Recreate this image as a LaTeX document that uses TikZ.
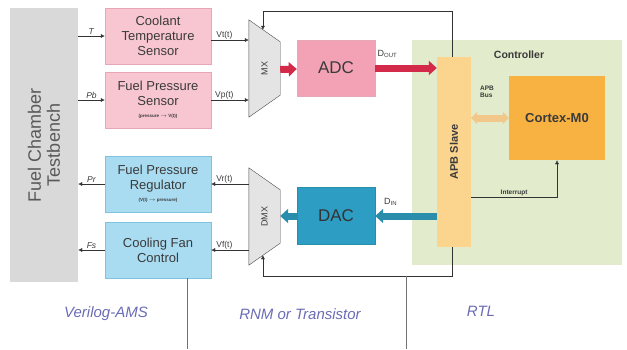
\documentclass[tikz,border=0pt]{standalone}
\usepackage{fontspec}
\setmainfont{Liberation Sans}
\usepackage{tikz}
\usetikzlibrary{calc,arrows.meta,positioning}
\definecolor{benchg}{HTML}{D9D9D9}
\definecolor{pinkbox}{HTML}{F8C6D1}
\definecolor{pinkline}{HTML}{E7A7B7}
\definecolor{adcx}{HTML}{F3A2B5}
\definecolor{redx}{HTML}{D42A4A}
\definecolor{bluebox}{HTML}{A9DCF1}
\definecolor{blueline}{HTML}{7FC3E0}
\definecolor{dacx}{HTML}{2E9DC3}
\definecolor{tealx}{HTML}{2A8DAC}
\definecolor{greenx}{HTML}{E2EBCB}
\definecolor{apbx}{HTML}{FBD48E}
\definecolor{cortexx}{HTML}{F8B241}
\definecolor{busx}{HTML}{F2C88A}
\definecolor{txt}{HTML}{3A3A3A}
\definecolor{layerx}{HTML}{6A6CB4}
\definecolor{muxg}{HTML}{E4E4E4}
\tikzset{
  blk/.style={minimum width=106pt,minimum height=56pt,align=center,text=txt,
    font=\fontsize{13}{15}\selectfont,inner sep=2pt},
  sens/.style={blk,fill=pinkbox,draw=pinkline},
  act/.style={blk,fill=bluebox,draw=blueline},
  sig/.style={-{Latex[length=4pt,width=4pt]},thin,black!80},
  lbl/.style={font=\fontsize{8.5}{9}\selectfont,text=txt,inner sep=1pt},
  fat/.style={line width=7pt,-{Triangle[length=8pt,width=14pt]}},
  layer/.style={font=\itshape\fontsize{15}{16}\selectfont,text=layerx}
}
\newcommand{\smallnote}[1]{\\[-3pt]{\fontsize{4.5}{5}\selectfont\bfseries #1}}
\begin{document}
\begin{tikzpicture}[x=1pt,y=-1pt]
\useasboundingbox (0,0) rectangle (627,349);
% controller area
\node[fill=greenx,minimum width=210pt,minimum height=225pt] (ctrl) at (517,152.5) {};
\node[font=\bfseries\fontsize{10.5}{12}\selectfont,text=txt] (ctrllbl) at (519,55) {Controller};
% testbench
\node[fill=benchg,minimum width=274pt,minimum height=68pt,text=black!65,align=center,
  rotate=90,font=\fontsize{18}{19}\selectfont] (bench) at (44,145) {Fuel Chamber\\Testbench};
% sensors and actuators
\node[sens] (cts) at (158,36) {Coolant\\Temperature\\Sensor};
\node[sens] (fps) at (158,100) {Fuel Pressure\\Sensor\smallnote{(pressure $\rightarrow$ V(t))}};
\node[act] (fpr) at (158,184) {Fuel Pressure\\Regulator\smallnote{(V(t) $\rightarrow$ pressure)}};
\node[act] (cfc) at (158,250) {Cooling Fan\\Control};
% mux / demux
\node[minimum width=31pt,minimum height=97pt,inner sep=0pt] (mux) at (264.5,68.5) {};
\node[minimum width=31pt,minimum height=97pt,inner sep=0pt] (dmx) at (264.5,216.5) {};
\draw[fill=muxg,draw=black!70] (mux.north west) -- ($(mux.north east)+(0,22)$)
  -- ($(mux.south east)+(0,-22)$) -- (mux.south west) -- cycle;
\draw[fill=muxg,draw=black!70] (dmx.north west) -- ($(dmx.north east)+(0,22)$)
  -- ($(dmx.south east)+(0,-22)$) -- (dmx.south west) -- cycle;
\node[rotate=90,font=\fontsize{9}{10}\selectfont,text=txt] (muxlbl) at (mux) {MX};
\node[rotate=90,font=\fontsize{9}{10}\selectfont,text=txt] (dmxlbl) at (dmx) {DMX};
% converters
\node[fill=adcx,draw=pinkline,minimum width=78pt,minimum height=56pt,text=txt,
  font=\fontsize{17}{18}\selectfont] (adc) at (336,68) {ADC};
\node[fill=dacx,draw=tealx,minimum width=78pt,minimum height=57pt,text=black!80,
  font=\fontsize{17}{18}\selectfont] (dac) at (336,216) {DAC};
% rtl
\node[fill=apbx,minimum width=190pt,minimum height=34pt,rotate=90,text=txt,
  font=\bfseries\fontsize{11}{12}\selectfont] (apb) at (454,152) {APB Slave};
\node[fill=cortexx,minimum width=96pt,minimum height=84pt,text=txt,
  font=\bfseries\fontsize{13}{14}\selectfont] (cortex) at (557,118) {Cortex-M0};
% helper points
\coordinate (selx) at (452,11);
\coordinate (sely) at (452,276);
\coordinate (irq) at (557,197);
% testbench <-> blocks
\draw[sig] (bench.south |- cts) -- node[lbl,above]{\textit{T}} (cts.west);
\draw[sig] (bench.south |- fps) -- node[lbl,above]{\textit{Pb}} (fps.west);
\draw[sig] (fpr.west) -- node[lbl,above]{\textit{Pr}} (bench.south |- fpr);
\draw[sig] (cfc.west) -- node[lbl,above]{\textit{Fs}} (bench.south |- cfc);
% blocks <-> mux/demux
\draw[sig] ([yshift=-4pt]cts.east) -- node[lbl,above,pos=0.35]{Vt(t)} ([yshift=-4pt]cts.east -| mux.west);
\draw[sig] (fps.east) -- node[lbl,above,pos=0.35]{Vp(t)} (fps.east -| mux.west);
\draw[sig] (fpr.east -| dmx.west) -- node[lbl,above,pos=0.65]{Vr(t)} (fpr.east);
\draw[sig] (cfc.east -| dmx.west) -- node[lbl,above,pos=0.65]{Vf(t)} (cfc.east);
% data paths
\draw[fat,redx] ($(mux.east)+(0,1)$) -- ($(adc.west)+(0,1)$);
\draw[fat,redx] (adc.east) -- node[lbl,above=6pt,pos=0.2,font=\fontsize{9}{10}\selectfont]{D\textsubscript{OUT}} (adc.east -| apb.north);
\draw[fat,tealx] (dac.east -| apb.north) -- node[lbl,above=6pt,pos=0.75,font=\fontsize{9}{10}\selectfont]{D\textsubscript{IN}} (dac.east);
\draw[fat,tealx] (dac.west) -- (dac.west -| dmx.east);
% bus and interrupt
\draw[line width=7pt,busx,{Triangle[length=6pt,width=12pt]}-{Triangle[length=6pt,width=12pt]}]
  (apb.south |- cortex) -- (cortex.west);
\node[lbl,font=\bfseries\fontsize{6.5}{7.5}\selectfont,align=left] (buslbl) at (487,92) {APB\\Bus};
\draw[sig] (apb.south |- irq) -- node[lbl,above,font=\bfseries\fontsize{6.5}{7.5}\selectfont]{Interrupt} (irq) -- (cortex.south);
% select lines
\coordinate (muxsel) at ($(mux.north west)!0.45!(mux.north east)+(0,10)$);
\coordinate (dmxsel) at ($(dmx.south west)!0.45!(dmx.south east)+(0,-10)$);
\draw[sig] (apb.east -| selx) -- (selx) -- (muxsel |- selx) -- (muxsel);
\draw[sig] (apb.west -| sely) -- (sely) -- (dmxsel |- sely) -- (dmxsel);
% layer dividers
\draw[black!55] (187,278) -- (187,349);
\draw[black!55] (406,276) -- (406,349);
\node[layer] (vams) at (106,314) {Verilog-AMS};
\node[layer] (rnm) at (300,314) {RNM or Transistor};
\node[layer] (rtl) at (481,311) {RTL};
\end{tikzpicture}
\end{document}
